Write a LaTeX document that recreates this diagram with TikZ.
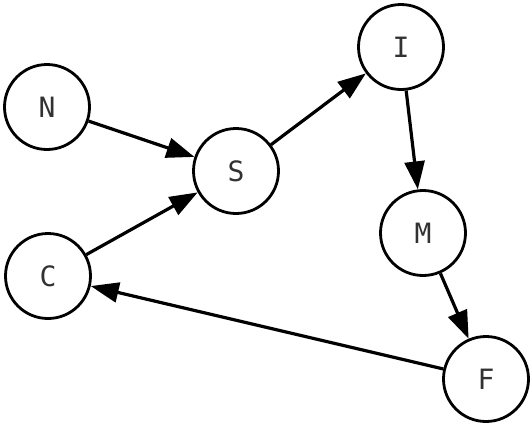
\documentclass[tikz,border=0pt]{standalone}
\usepackage{fontspec}
\setmonofont{DejaVu Sans Mono}
\usetikzlibrary{arrows.meta}
\definecolor{txt}{RGB}{50,50,50}
\begin{document}
\begin{tikzpicture}[x=1pt,y=-1pt,
  vtx/.style={circle,draw,line width=2.8pt,minimum size=85pt,inner sep=0pt,text=txt,font=\ttfamily\fontsize{28}{28}\selectfont},
  edge/.style={line width=3.2pt,-{Triangle[length=28pt,width=20pt]}}]
\useasboundingbox (0,0) rectangle (532,426);
\node[vtx] (N) at (47,107) {N};
\node[vtx] (S) at (236,171) {S};
\node[vtx] (I) at (401,47) {I};
\node[vtx] (M) at (423,233) {M};
\node[vtx] (C) at (48,276) {C};
\node[vtx] (F) at (486,379) {F};
\draw[edge] (N) -- (S);
\draw[edge] (C) -- (S);
\draw[edge] (S) -- (I);
\draw[edge] (I) -- (M);
\draw[edge] (M) -- (F);
\draw[edge] (F) -- (C);
\end{tikzpicture}
\end{document}
